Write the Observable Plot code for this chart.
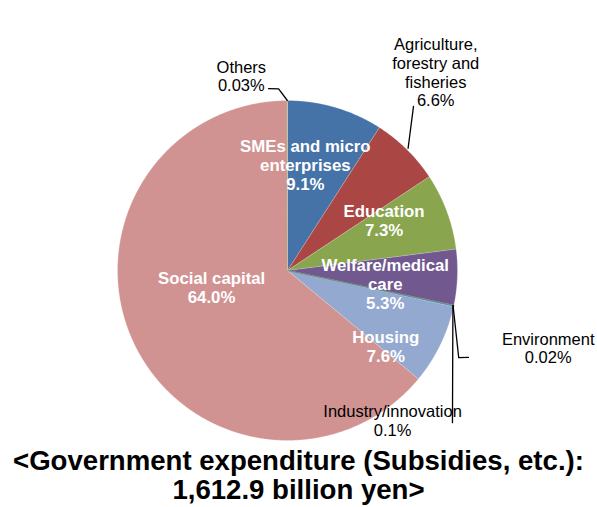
<!DOCTYPE html>
<html><head><meta charset="utf-8">
<script src="https://cdn.jsdelivr.net/npm/d3@7"></script>
<script src="https://cdn.jsdelivr.net/npm/@observablehq/plot@0.6"></script>
<style>
html,body{margin:0;background:#fff;font-family:"Liberation Sans",Arial,sans-serif;overflow:hidden;}
#wrap{position:relative;width:597px;height:507px;}
.tl{position:absolute;left:0;width:597px;text-align:center;font-weight:bold;font-size:28px;line-height:26px;height:26px;color:#000;transform:scaleX(0.985);transform-origin:298px 0;white-space:nowrap;}
</style></head><body>
<div id="wrap">
<div id="chart"></div>
<div class="tl" style="top:448px">&lt;Government expenditure (Subsidies, etc.):</div>
<div class="tl" style="top:477px">1,612.9 billion yen&gt;</div>
</div>
<script>
// ---- data ----
const categories = ["SMEs and micro\nenterprises", "Agriculture,\nforestry and\nfisheries", "Education", "Welfare/medical\ncare", "Environment", "Industry/innovation", "Housing", "Social capital", "Others"];
const shares = [9.1, 6.6, 7.3, 5.3, 0.02, 0.1, 7.6, 64.0, 0.03];
const shareLabels = ["9.1%", "6.6%", "7.3%", "5.3%", "0.02%", "0.1%", "7.6%", "64.0%", "0.03%"];
const colors = ["#4572A7", "#AA4643", "#89A54E", "#71588F", "#DB843D", "#4198AF", "#93A9CF", "#D19392", "#B9CD96"];
const insideLabel = [true, false, true, true, false, false, true, true, false];

// ---- layout (label placement relative to slice mid-angle: [angle offset deg, radius]) ----
const labelPlace = [[-6.8, 0.63], [-7.8, 1.455], [-7.1, 0.64], [5.3, 0.58], [4.7, 1.60], [42.9, 1.077], [11.7, 0.73], [13.0, 0.457], [-13.3, 1.176]];
// leader polylines: [angle offset from slice mid (deg), radius]
const leaders = {
  1: [[0, 1.01], [-7.1, 1.217]],
  4: [[0, 0.995], [15.1, 1.13], [13.8, 1.181]],
  5: [[0, 0.995], [30.6, 1.32]],
  8: [[0, 1.0], [-2.75, 1.07], [-5.9, 1.076]]
};

const pie = d3.pie().sort(null).value(d => d)(shares);
const deg = Math.PI / 180;
const pt = (a, r) => ({x: r * Math.sin(a), y: r * Math.cos(a)});

const slices = pie.map((p, i) => {
  const pts = [{...pt(0, 0), key: i}];
  const n = Math.max(2, Math.ceil((p.endAngle - p.startAngle) / 0.004));
  for (let k = 0; k <= n; k++) {
    const a = p.startAngle + (p.endAngle - p.startAngle) * k / n;
    pts.push({...pt(a, 1), key: i});
  }
  return pts;
});
const mid = i => (pie[i].startAngle + pie[i].endAngle) / 2;

const labels = categories.map((c, i) => {
  const [da, r] = labelPlace[i];
  const p = pt(mid(i) + da * deg, r);
  return {...p, text: c + "\n" + shareLabels[i], inside: insideLabel[i]};
});

const leaderPts = [];
for (const [k, arr] of Object.entries(leaders)) {
  for (const [da, r] of arr) leaderPts.push({...pt(mid(+k) + da * deg, r), key: k});
}

const tiny = new Set([4, 5, 8]);
const marks = [];
slices.forEach((s, i) => {
  if (!tiny.has(i)) marks.push(Plot.line(s, {x: "x", y: "y", fill: colors[i], stroke: "white", strokeWidth: 0.5, strokeOpacity: 0.5}));
});
slices.forEach((s, i) => {
  if (tiny.has(i)) marks.push(Plot.line(s, {x: "x", y: "y", fill: colors[i], stroke: colors[i], strokeWidth: i === 4 ? 1.2 : 0.8}));
});
marks.push(Plot.line(leaderPts, {x: "x", y: "y", z: "key", stroke: "#000", strokeWidth: 1.3}));
marks.push(Plot.text(labels.filter(d => d.inside), {x: "x", y: "y", text: "text", fill: "white", fontWeight: "bold", fontSize: 16.8, lineHeight: 1.13}));
marks.push(Plot.text(labels.filter(d => !d.inside), {x: "x", y: "y", text: "text", fill: "#000", fontSize: 16.5, lineHeight: 1.13}));

const R = 170;
const chart = Plot.plot({
  width: 597, height: 445, margin: 0,
  x: {domain: [-287 / R, 310 / R], axis: null},
  y: {domain: [-175 / R, 270 / R], axis: null},
  style: {fontFamily: '"Liberation Sans", Arial, sans-serif', background: "white"},
  marks
});
document.getElementById("chart").appendChild(chart);
</script>
</body></html>
